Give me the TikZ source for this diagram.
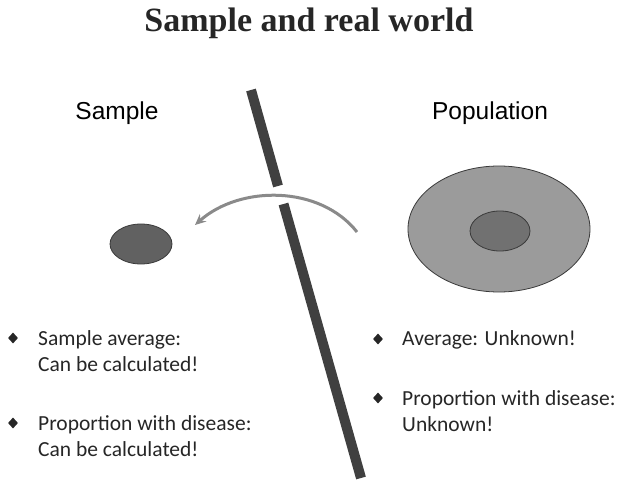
\documentclass[tikz,border=0pt]{standalone}
\usepackage{fontspec}
\setmainfont{Carlito}
\newfontfamily\titlefont{Liberation Serif}
\newfontfamily\headfont{Liberation Sans}
\usetikzlibrary{arrows.meta,shapes.geometric,positioning}
\definecolor{textgray}{HTML}{262626}
\definecolor{bargray}{HTML}{404040}
\definecolor{arcgray}{HTML}{8A8A8A}
\definecolor{edgegray}{HTML}{3A3A3A}
\definecolor{darkfill}{HTML}{616161}
\definecolor{lightfill}{HTML}{9B9B9B}

\begin{document}
\begin{tikzpicture}[x=1pt,y=-1pt,
  bodytext/.style={anchor=base west, align=left, inner sep=0pt, text=textgray,
    font=\fontsize{21.5}{26.5}\selectfont},
  headtext/.style={anchor=base, inner sep=0pt, text=black, font=\headfont\fontsize{24.5}{29}\selectfont},
  bulletmark/.style={diamond, fill=textgray, inner sep=0pt, minimum width=10pt, minimum height=11pt},
  blob/.style={ellipse, draw=edgegray, line width=0.8pt, inner sep=0pt}]
\useasboundingbox (0,0) rectangle (621,481);

\node[anchor=base, inner sep=0pt, text=textgray, font=\titlefont\bfseries\fontsize{34}{40}\selectfont] (title) at (309,32) {Sample and real world};
\node[headtext] (samplelbl) at (117,120) {Sample};
\node[headtext] (poplbl) at (490,120) {Population};

% dividing bar, broken where the arc passes
\coordinate (bartop) at (251,90);
\coordinate (barup) at (278,186);
\coordinate (barlow) at (283.5,204);
\coordinate (barbot) at (361,478);
\draw[bargray, line width=10pt] (bartop) -- (barup) (barlow) -- (barbot);

% sample and population
\node[blob, fill=darkfill, minimum width=62pt, minimum height=40pt] (sample) at (141,244) {};
\node[blob, fill=lightfill, minimum width=182pt, minimum height=126pt] (population) at (499,229) {};
\node[blob, fill=darkfill!90, minimum width=60pt, minimum height=40pt] (disease) at (500,231) {};

\coordinate (arcstart) at (357,232);
\coordinate (arcend) at (195,225);
\draw[arcgray, line width=3pt, -{Stealth[length=11pt,width=10pt,inset=4pt]}] (arcstart) .. controls (320,185) and (240,185) .. (arcend);

% bullets (base anchor sits on the last line)
\foreach \n/\x/\y in {sa/13/338, sb/13/423, pa/378/339, pb/378/398}
  \node[bulletmark] (bul\n) at (\x,\y) {};
\node[bodytext] (txtsa) at (38,371.5) {Sample average:\\Can be calculated!};
\node[bodytext] (txtsb) at (38,456.5) {Proportion with disease:\\Can be calculated!};
\node[bodytext] (txtpa) at (402,345) {Average: Unknown!};
\node[bodytext] (txtpb) at (402,431.5) {Proportion with disease:\\Unknown!};
\end{tikzpicture}
\end{document}
